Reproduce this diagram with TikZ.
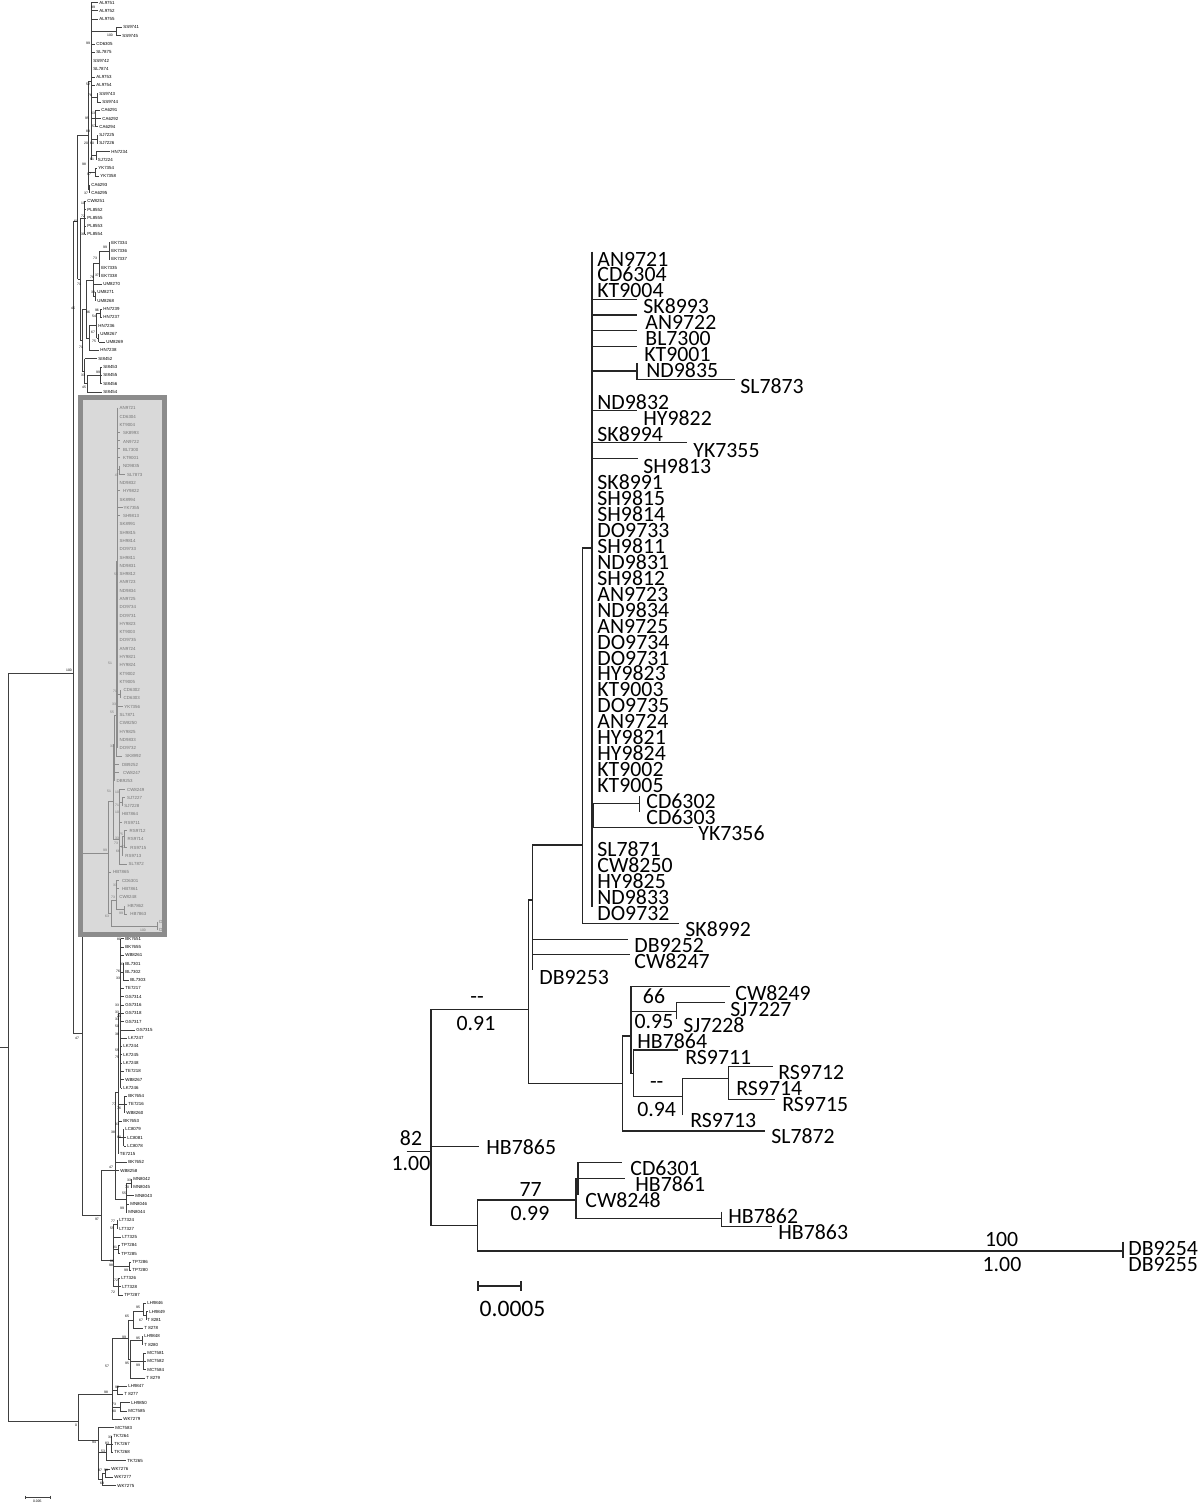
\documentclass[tikz,border=0pt]{standalone}
\usepackage{fontspec}
\setmainfont{Carlito}
\newfontfamily\leaffont{Liberation Sans}
\usetikzlibrary{calc}

\tikzset{
  declare function={ry(\r)=2.5+8.285*\r; by(\r)=266+15.96*\r;},
  ltree/.style={line width=0.3pt, black!75},
  itree/.style={line width=0.3pt, black!45},
  rtree/.style={line width=0.6pt, black!85},
  lleaf/.style={anchor=west, inner sep=0pt, font=\leaffont\fontsize{2.2}{2.4}\selectfont},
  ileaf/.style={lleaf, text=black!55},
  lboot/.style={inner sep=0pt, font=\leaffont\fontsize{1.7}{1.9}\selectfont},
  rleaf/.style={anchor=base west, inner sep=0pt, font=\fontsize{10.9}{12}\selectfont},
  rsup/.style={anchor=base, inner sep=0pt, font=\fontsize{10.9}{12}\selectfont},
  boxfill/.style={fill=black!15},
  boxedge/.style={draw=black!45, line width=2.5pt},
}

% branches of the enlarged tree, #1 = x of the DB9254/DB9255 node
\newcommand{\rtreelines}[1]{%
  % --- main polytomy ---
  \draw (592,251.7) -- (592,906.7);
  \foreach \y/\xe in {299.3/637, 315/637, 330.7/637, 346.7/637, 371/637, 410.7/637, 442.7/686.7, 458.3/638}
    \draw (592,\y) -- (\xe,\y);
  \draw (637,363.3) -- (637,379.3) -- (735,379.3);
  \draw (592,815) -- (593.3,815);
  \draw (639.3,796) -- (639.3,811.7);
  \draw (639.3,803.3) -- (593.3,803.3) -- (593.3,827.3) -- (692.7,827.3);
  % --- deeper backbone ---
  \draw (592,548) -- (582.7,548) -- (582.7,923.3) -- (679.3,923.3);
  \draw (582.7,845) -- (532.3,845) -- (532.3,970);
  \draw (532.3,939.3) -- (628.3,939.3);
  \draw (532.3,954.3) -- (630,954.3);
  \draw (532.3,900) -- (528.3,900) -- (528.3,1083.3) -- (622.7,1083.3);
  % --- CW8249 ... SL7872 ---
  \draw (631,1036) -- (622.7,1036) -- (622.7,1131) -- (765,1131);
  \draw (730,986.7) -- (631,986.7) -- (631,1073.3) -- (633.3,1073.3);
  \draw (631,1011.7) -- (676.7,1011.7);
  \draw (676.7,1019.3) -- (676.7,1002.7) -- (725,1002.7);
  \draw (678.3,1050) -- (633.3,1050) -- (633.3,1096.7) -- (682.7,1096.7);
  \draw (682.7,1115) -- (682.7,1078.3) -- (728.3,1078.3);
  \draw (772.7,1066.7) -- (728.3,1066.7) -- (728.3,1099.3) -- (775,1099.3);
  % --- root ---
  \draw (528.3,1009.3) -- (431,1009.3) -- (431,1225.7) -- (477.3,1225.7);
  \draw (431,1146.7) -- (479,1146.7);
  \draw (576,1200) -- (477.3,1200) -- (477.3,1251) -- (#1,1251);
  \draw (#1,1241.7) -- (#1,1258);
  \draw (576,1178.3) -- (576,1218.3) -- (721.7,1218.3);
  \draw (576,1180) -- (578,1180);
  \draw (621.7,1162.3) -- (578,1162.3) -- (578,1195);
  \draw (578,1178.3) -- (625.3,1178.3);
  \draw (721.7,1211.7) -- (721.7,1226.7) -- (771.7,1226.7);
}

\begin{document}
\begin{tikzpicture}[x=0.5pt, y=-0.5pt]
    \useasboundingbox (0,0) rectangle (1200,1503);

    % --- Overview tree: leaves (row / node x / label x / name) ---
    \foreach \r/\xn/\xl/\t in {0/91.5/99/AL9751, 1/91.5/99/AL9752, 2/91.5/99/AL9755,
        3/116.7/123/SS9741, 4/116.7/122/SS9745, 5/91.5/96/CD6305, 6/91.5/96/SL7875,
        7/91.5/93/SS9742, 8/91.5/93/SL7874, 9/91.5/96/AL9753, 10/91.5/96/AL9754,
        11/97/99/SS9743, 12/97/102/SS9744, 13/95/101/CA6291, 14/95/102/CA6292,
        15/95/99/CA6294, 16/97/99/SJ7225, 17/97/99/SJ7226, 18/96/111/HN7234,
        19/96/97.5/SJ7224, 20/95/98/YK7354, 21/95/100/YK7358, 22/89.5/91/CA6293,
        23/89.5/91/CA6295, 24/84.5/87/CW8251, 25/84.5/87/PL8552, 26/84.5/87/PL8555,
        27/84.5/87/PL8553, 28/84.5/87/PL8554, 29/109/111/EK7334, 30/109/111/EK7336,
        31/109/111/EK7337, 32/99/101/EK7335, 33/99/101/EK7338, 34/93/103/UM8270,
        35/95.5/97/UM8271, 36/95.5/97/UM8268, 37/100/103/HN7239, 38/100/103/HN7237,
        39/96.5/98/HN7236, 40/98.5/100/UM8267, 41/98.5/106/UM8269, 42/89/100/HN7238,
        43/84.5/98/SI8452, 44/100/103/SI8453, 45/100/103/SI8455, 46/100/103/SI8456,
        47/87/103/SI8454,
        113/120.5/125/BK7651, 114/120.5/125/BK7655, 115/120.5/125/WB8261,
        116/123/125/BL7301, 117/123/125/BL7302, 118/123/130/BL7303,
        119/120.5/125/TE7217, 120/120.5/125/GS7314, 121/120.5/125/GS7316,
        122/120.5/125/GS7318, 123/120.5/125/GS7317, 124/120.5/136/GS7315,
        125/120.5/128/LK7247, 126/120.5/123/LK7244, 127/120.5/123/LK7245,
        128/120.5/123/LK7248, 129/120.5/125/TE7218, 130/120.5/125/WB8267,
        131/120.5/123/LK7246, 132/124.5/128/BK7654, 133/124.5/128/TE7216,
        134/124.5/126/WB8260, 135/118.5/123/BK7653, 136/123.5/125/LC8079,
        137/123.5/127/LC8081, 138/123.5/127/LC8078, 139/118.5/119.5/TE7215,
        140/115/128/BK7652, 141/115/120/WB8258, 142/131/133/MN8042,
        143/131/133/MN8045, 144/126/135/MN8043, 145/126/130/MN8046,
        146/126/128/MN8044, 147/117/119/LT7324, 148/117/119/LT7327,
        149/113/122/LT7325, 150/118/121/TP7284, 151/118/121/TP7285,
        152/129/132/TP7286, 153/129/132/TP7280, 154/118/121/LT7326,
        155/118/122/LT7328, 156/118/124/TP7287, 157/143/147/LH9846,
        158/146/149/LH9849, 159/146/147/T 8281, 160/133/144/T 8278,
        161/142/144/LH9848, 162/142/144/T 8280, 163/143/147/MC7581,
        164/143/147/MC7582, 165/143/147/MC7584, 166/130/146/T 8279,
        167/117/128/LH9847, 168/117/124/T 8277, 169/120/131/LH9850,
        170/120/128/MC7585, 171/112/123/WK7279, 172/98/115/MC7583,
        173/111/113/TK7264, 174/111/114/TK7267, 175/111/114/TK7268,
        176/106/127/TK7265, 177/105/111/WK7276, 178/105/114/WK7277,
        179/102/117/WK7275}{
        \draw[ltree] (\xn,{ry(\r)}) -- ({max(\xn,\xl-1.5)},{ry(\r)});
        \node[lleaf] (L\r) at (\xl,{ry(\r)}) {\t};
    }

    % --- Overview tree: vertical bars (x / first row / last row) ---
    \foreach \x/\a/\b in {91.5/0/19, 116.7/3/4, 97/11/12, 95/13/15, 97/16/17, 96/18/19,
        95/20/21, 89.5/22/23, 88/9.5/22.5, 84.5/24/28, 109/29/31, 99/30/33, 95.5/35/36,
        93/31.5/35.5, 100/37/38, 98.5/40/41, 96.5/37.5/40.5, 89/39/42, 86/33.5/40.5,
        100/44/46, 87/45/47, 84.5/43/46, 82.3/37/44.5, 80/26/40.75, 77.7/16/33.4,
        120.5/113/131, 123/116/118, 118.5/122/139, 124.5/132/134, 123.5/136/138,
        131/142/143, 126/142.5/146, 115/131.5/144.5, 117/147/148, 118/150/151,
        129/152/153, 118/154/156, 113/147.5/155, 143/157/158.5, 146/158/159,
        133/158/160, 142/161/162, 143/163/165, 130/161.5/166, 128/159/163.75,
        117/167/168, 120/169/170, 112/161.2/171, 111/173/175, 106/174/176,
        105/177/178, 102/177.5/179, 98/172/178.25}
        \draw[ltree] (\x,{ry(\a)}) -- (\x,{ry(\b)});

    % --- Overview tree: joining branches (row / from x / to x) ---
    \foreach \r/\a/\b in {3.5/91.5/116.7, 11.5/91.5/97, 14/91.5/95, 16.5/91.5/97,
        18.5/91.5/96, 9.5/88/91.5, 20.5/88/95, 22.5/88/89.5, 30/99/109, 31.5/93/99,
        35.5/93/95.5, 37.5/96.5/100, 40.5/96.5/98.5, 39/89/96.5, 33.5/86/93,
        40.5/86/89, 45/87/100, 46/84.5/87, 37/82.3/86, 44.5/82.3/84.5, 26/80/84.5,
        40.75/80/82.3, 16/77.7/88, 33.4/77.7/80,
        117/120.5/123, 122/118.5/120.5, 133/118.5/124.5, 137/118.5/123.5,
        131.5/115/118.5, 142.5/126/131, 144.5/115/126, 147.5/113/117, 150.5/113/118,
        152.5/113/129, 155/113/118, 158.5/143/146, 158/133/143, 161.5/130/142,
        164/130/143, 159/128/133, 163.75/128/130, 161.2/112/128, 167.5/112/117,
        169.5/112/120, 174/106/111, 175/98/106, 177.5/102/105, 178.25/98/102}
        \draw[ltree] (\a,{ry(\r)}) -- (\b,{ry(\r)});

    % --- Overview tree: deep nodes ---
    \draw[ltree] (77.7,221) -- (73,221) -- (73,1033) -- (82,1033);
    \draw[ltree] (0,1047) -- (8,1047);
    \draw[ltree] (73,673) -- (8,673) -- (8,1421) -- (78,1421);
    \draw[ltree] (82,853) -- (82,1215) -- (101,1215);
    \draw[ltree] (113,1260) -- (101,1260) -- (101,1170) -- (115,1170);
    \draw[ltree] (112,1394) -- (78,1394) -- (78,1440) -- (98,1440);

    % --- Overview tree: bootstrap values ---
    \foreach \x/\y/\t [count=\k] in {93/7/99, 110/35/100, 88/43/99, 88/84/52, 90/95/76,
        93/113/63, 87/118/95, 94/126/57, 88/131/83, 92/143/60, 86/143/20, 92/159/61,
        84/164/98, 89/174/97, 86/193/37, 83/203/10, 83/216/72, 76/221/61, 83/234/30,
        105/247/99, 95/258/73, 97/275/37, 92/277/76, 79/284/71, 93/292/33, 97/310/96,
        94/316/54, 88/312/96, 73/308/45, 93/332/67, 94/341/75, 81/347/71, 98/372/99,
        83/375/33, 84/387/45, 69/670/100, 77/1038/47,
        119/939/80, 122/964/33, 118/971/76, 118/978/33, 117/1005/33, 117/1012/33,
        119/1016/21, 117/1019/33, 117/1026/50, 117/1034/38, 117/1050/55, 117/1057/75,
        114/1104/77, 119/1108/76, 117/1124/33, 113/1132/38, 119/1137/80, 111/1167/47,
        129/1180/33, 127/1187/70, 124/1193/55, 122/1208/99, 97/1219/97, 113/1221/77,
        112/1228/55, 115/1247/81, 112/1261/86, 111/1265/98, 126/1270/99, 116/1280/72,
        113/1292/72, 138/1307/95, 127/1316/65, 141/1320/67, 138/1338/95, 124/1337/99,
        127/1363/95, 138/1365/99, 107/1366/57, 106/1392/98, 117/1387/95, 114/1404/73,
        114/1411/90, 76/1425/0, 94/1442/94, 110/1437/33, 107/1443/83, 103/1451/53,
        106/1470/58, 100/1470/97, 102/1483/69}
        \node[lboot] (lb\k) at (\x,\y) {\t};

    % --- Overview tree: scale bar ---
    \draw[ltree] (25,1495.5) -- (25,1499) (25,1497.3) -- (50,1497.3) (50,1495.5) -- (50,1499);
    \node[lboot] (lscale) at (37.3,1501.5) {0.005};

    % --- Highlighted clade in the overview (grey box) ---
    \fill[boxfill] (80.2,397.5) rectangle (164.2,934.5);
    \begin{scope}
        \clip (82.7,400) rectangle (161.7,932);
        \draw[itree] (82,853) -- (108.4,853);
        \begin{scope}[shift={(84.74,277.02)}, xscale=0.055, yscale=0.5191, itree]
            \rtreelines{1314}
        \end{scope}
        \foreach \r/\x/\t in {49/119.3/AN9721, 50/119.3/CD6304, 51/119.3/KT9004,
            52/122.7/SK8993, 53/122.7/AN9722, 54/122.7/BL7300, 55/122.7/KT9001,
            56/122.7/ND9835, 57/126.7/SL7873, 58/119.3/ND9832, 59/122.7/HY9822,
            60/119.3/SK8994, 61/123.3/YK7355, 62/122.7/SH9813, 63/119.3/SK8991,
            64/119.3/SH9815, 65/119.3/SH9814, 66/119.3/DO9733, 67/119.3/SH9811,
            68/119.3/ND9831, 69/119.3/SH9812, 70/119.3/AN9723, 71/119.3/ND9834,
            72/119.3/AN9725, 73/119.3/DO9734, 74/119.3/DO9731, 75/119.3/HY9823,
            76/119.3/KT9003, 77/119.3/DO9735, 78/119.3/AN9724, 79/119.3/HY9821,
            80/119.3/HY9824, 81/119.3/KT9002, 82/119.3/KT9005, 83/123.3/CD6302,
            84/123.3/CD6303, 85/124/YK7356, 86/119.3/SL7871, 87/119.3/CW8250,
            88/119.3/HY9825, 89/119.3/ND9833, 90/119.3/DO9732, 91/125/SK8992,
            92/121.7/DB9252, 93/122.7/CW8247, 94/116.3/DB9253, 95/126.7/CW8249,
            96/126.7/SJ7227, 97/124/SJ7228, 98/121.7/HB7864, 99/124/RS9711,
            100/129.3/RS9712, 101/127.3/RS9714, 102/130/RS9715, 103/125/RS9713,
            104/128.3/SL7872, 105/112.7/HB7865, 106/121.7/CD6301, 107/121.7/HB7861,
            108/119/CW8248, 109/127.3/HB7862, 110/130/HB7863, 111/159/DB9254,
            112/159/DB9255}
            \node[ileaf] (I\r) at (\x,{ry(\r)}) {\t};
        \foreach \x/\y/\t [count=\k] in {116.7/475/47, 116/574/55, 110/663/51, 115/691/71,
            114/704/33, 112/712/55, 112/746/33, 109/791/51, 117/792/10, 117/805/71,
            117/812/10, 121/834/75, 117/838/33, 116/843/73, 123/847/37, 118/851/66,
            105/850/99, 115/885/33, 113/897/73, 121/913/99, 107/916/63, 143/930/100}
            \node[lboot, text=black!55] (ib\k) at (\x,\y) {\t};
    \end{scope}
    \draw[boxedge] (80.2,397.5) rectangle (164.2,934.5);

    % --- Enlarged tree: branches ---
    \begin{scope}[rtree]
        \rtreelines{1123}
        \draw (406.7,1151.7) -- (431,1151.7);
    \end{scope}

    % --- Enlarged tree: leaf labels (row / x / name) ---
    \foreach \r/\x/\t in {0/597/AN9721, 1/597/CD6304, 2/597/KT9004, 3/643/SK8993,
        4/645/AN9722, 5/645/BL7300, 6/644/KT9001, 7/646/ND9835, 8/740/SL7873,
        9/597/ND9832, 10/643/HY9822, 11/597/SK8994, 12/693/YK7355, 13/643/SH9813,
        14/597/SK8991, 15/597/SH9815, 16/597/SH9814, 17/597/DO9733, 18/597/SH9811,
        19/597/ND9831, 20/597/SH9812, 21/597/AN9723, 22/597/ND9834, 23/597/AN9725,
        24/597/DO9734, 25/597/DO9731, 26/597/HY9823, 27/597/KT9003, 28/597/DO9735,
        29/597/AN9724, 30/597/HY9821, 31/597/HY9824, 32/597/KT9002, 33/597/KT9005,
        34/646/CD6302, 35/646/CD6303, 36/698/YK7356, 37/597/SL7871, 38/597/CW8250,
        39/597/HY9825, 40/597/ND9833, 41/597/DO9732, 42/685/SK8992, 43/634/DB9252,
        44/634/CW8247, 45/539/DB9253, 46/735/CW8249, 47/730/SJ7227, 48/683/SJ7228,
        49/637/HB7864, 50/685/RS9711, 51/778/RS9712, 52/736/RS9714, 53/782/RS9715,
        54/690/RS9713, 55/771/SL7872, 55.7/486/HB7865, 57/630/CD6301, 58/635/HB7861,
        59/585/CW8248, 60/728/HB7862, 61/778/HB7863, 62/1128/DB9254, 63/1128/DB9255}
        \node[rleaf] (R\t) at (\x,{by(\r)}) {\t};

    % --- Enlarged tree: support values (bootstrap above, posterior below) ---
    \foreach \x/\y/\t [count=\k] in {477/1003/{-}{-}, 476/1030.7/0.91, 411/1145/82,
        411/1170.7/1.00, 530.7/1196.7/77, 530/1220/0.99, 654/1003.3/66, 654/1028.3/0.95,
        656.7/1088.3/{-}{-}, 656.7/1116.7/0.94, 1001.7/1246/100, 1002/1271.5/1.00}
        \node[rsup] (rs\k) at (\x,\y) {\t};

    % --- Enlarged tree: scale bar ---
    \coordinate (sbl) at (478,1286);
    \coordinate (sbr) at (521,1286);
    \draw[rtree] ($(sbl)+(0,-5)$) -- ($(sbl)+(0,5)$) (sbl) -- (sbr) ($(sbr)+(0,-5)$) -- ($(sbr)+(0,5)$);
    \node[rsup, font=\fontsize{11.8}{13}\selectfont] (rscale) at (512.5,1316) {0.0005};
\end{tikzpicture}
\end{document}
